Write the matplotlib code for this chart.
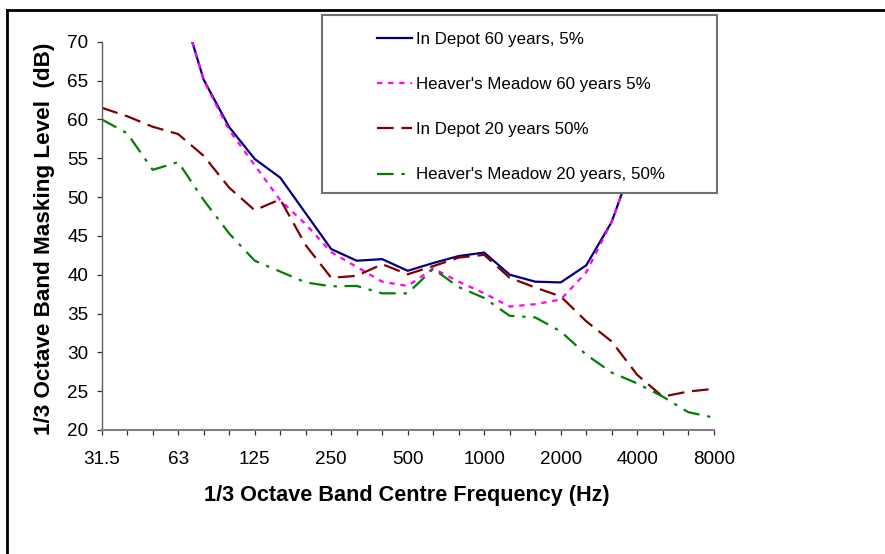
import matplotlib
matplotlib.use("Agg")
import matplotlib.pyplot as plt
import numpy as np
from matplotlib.lines import Line2D
from matplotlib.patches import Rectangle

plt.rcParams['font.family'] = ['Liberation Sans', 'DejaVu Sans']

# 1/3 octave band centre frequencies (Hz)
bands = ['31.5', '40', '50', '63', '80', '100', '125', '160', '200', '250', '315', '400',
         '500', '630', '800', '1000', '1250', '1600', '2000', '2500', '3150', '4000',
         '5000', '6300', '8000']
nan = np.nan

# masking levels (dB)
depot_60 = [nan, nan, nan, 76, 65.1, 59.0, 54.9, 52.5, 47.9, 43.3, 41.8, 42.0, 40.5, 41.5,
            42.4, 42.85, 40.0, 39.1, 39.0, 41.2, 46.8, 56, 66, 76, 85]
meadow_60 = [nan, nan, nan, 76, 65.0, 58.6, 54.1, 49.6, 46.5, 42.9, 41.0, 39.1, 38.55, 40.8,
             39.1, 37.6, 35.9, 36.2, 36.8, 40.3, 46.8, 56, 66, 76, 85]
depot_20 = [61.5, 60.4, 59.05, 58.1, 55.3, 51.2, 48.3, 49.7, 43.8, 39.6, 39.85, 41.35, 40.05,
            41.1, 42.2, 42.55, 39.6, 38.35, 37.2, 34.0, 31.4, 27.1, 24.3, 24.95, 25.3]
meadow_20 = [60.0, 58.2, 53.5, 54.5, 49.6, 45.3, 41.8, 40.4, 39.0, 38.5, 38.55, 37.6, 37.6,
             40.75, 38.4, 37.0, 34.7, 34.5, 32.7, 29.7, 27.4, 26.0, 24.3, 22.3, 21.6]

W, H = 885, 554
fig = plt.figure(figsize=(W / 100, H / 100), dpi=100)
ax = fig.add_axes([101.7 / W, 1 - 430 / H, 612 / W, 388.3 / H])

x = np.arange(len(bands))
lw = 1.6
ax.plot(x, depot_60, color='#000080', lw=lw, label='In Depot 60 years, 5%')
ax.plot(x, meadow_60, color='#FF00FF', lw=lw, linestyle=(0, (2.4, 2.6)),
        label="Heaver's Meadow 60 years 5%")
ax.plot(x, depot_20, color='#800000', lw=lw, linestyle=(0, (7.5, 3.5)),
        label='In Depot 20 years 50%')
ax.plot(x, meadow_20, color='#008000', lw=lw, linestyle=(0, (7.5, 3.5, 1.5, 3.5)),
        label="Heaver's Meadow 20 years, 50%")

ax.set_xlim(0, len(bands) - 1)
ax.set_ylim(20, 70)
ax.set_xticks(x)
ax.set_xticklabels([b if i % 3 == 0 else '' for i, b in enumerate(bands)])
ax.set_yticks(np.arange(20, 71, 5))
ax.tick_params(axis='both', labelsize=13.6, length=3.6, width=0.9, color='#303030')
ax.tick_params(axis='x', pad=11.5)
ax.tick_params(axis='y', pad=6)
for s in ['top', 'right']:
    ax.spines[s].set_visible(False)
ax.spines['left'].set_color('#606060')
ax.spines['bottom'].set_color('#808080')
ax.spines['left'].set_linewidth(1.0)
ax.spines['bottom'].set_linewidth(1.5)

fig.text(407 / W, 1 - 501 / H, '1/3 Octave Band Centre Frequency (Hz)', ha='center',
         va='baseline', fontsize=15.6, fontweight='bold')
fig.text(45 / W, 1 - 239 / H, '1/3 Octave Band Masking Level  (dB)', ha='center',
         va='center', rotation=90, fontsize=16.2, fontweight='bold')

# legend box sits over the plot area
box = Rectangle((322 / W, 1 - 193 / H), (717 - 322) / W, (193 - 15) / H,
                transform=fig.transFigure, facecolor='white', edgecolor='#707070',
                lw=1.5, zorder=4)
fig.add_artist(box)
handles, labels = ax.get_legend_handles_labels()
leg = fig.legend(handles, labels, loc='upper left', bbox_to_anchor=(377 / W, 1 - 32 / H),
                 frameon=False, fontsize=12.2, borderpad=0, borderaxespad=0,
                 handlelength=2.07, handletextpad=0.25, labelspacing=1.78)
leg.set_zorder(5)

# outer frame (top and left edges)
fig.add_artist(Line2D([7 / W, 1], [1 - 10 / H, 1 - 10 / H], color='black', lw=2,
                      transform=fig.transFigure))
fig.add_artist(Line2D([7 / W, 7 / W], [0, 1 - 10 / H], color='black', lw=2,
                      transform=fig.transFigure))

fig.savefig('out.png', dpi=100)
